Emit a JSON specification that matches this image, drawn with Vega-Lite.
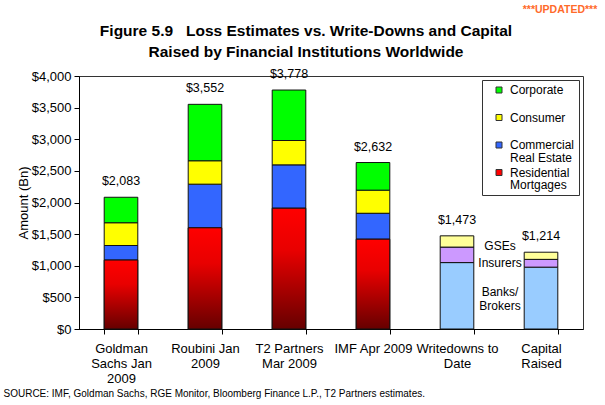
{
  "$schema": "https://vega.github.io/schema/vega-lite/v6.json",
  "width": 504,
  "height": 253,
  "autosize": {"type": "none"},
  "padding": {"left": 79, "top": 76, "right": 22, "bottom": 76},
  "background": "white",
  "config": {
    "font": "Liberation Sans",
    "view": {"stroke": "#333", "strokeWidth": 1},
    "style": {"guide-label": {"lineHeight": 12.5}},
    "axis": {
      "labelFont": "Liberation Sans",
      "titleFont": "Liberation Sans",
      "labelColor": "black",
      "titleColor": "black",
      "domainColor": "black",
      "tickColor": "black",
      "grid": false,
      "titleFontWeight": "normal"
    }
  },
  "title": {
    "text": ["Figure 5.9\u00a0\u00a0\u00a0Loss Estimates vs. Write-Downs and Capital", "Raised by Financial Institutions Worldwide"],
    "font": "Liberation Sans",
    "fontSize": 15.5,
    "fontWeight": "bold",
    "color": "black",
    "anchor": "middle",
    "dx": -25,
    "offset": -55,
    "lineHeight": 21
  },
  "datasets": {
    "segments": [
      {"cat": "Goldman Sachs Jan 2009", "seg": "Residential Mortgages", "value": 1090},
      {"cat": "Goldman Sachs Jan 2009", "seg": "Commercial Real Estate", "value": 230},
      {"cat": "Goldman Sachs Jan 2009", "seg": "Consumer", "value": 360},
      {"cat": "Goldman Sachs Jan 2009", "seg": "Corporate", "value": 403},
      {"cat": "Roubini Jan 2009", "seg": "Residential Mortgages", "value": 1600},
      {"cat": "Roubini Jan 2009", "seg": "Commercial Real Estate", "value": 690},
      {"cat": "Roubini Jan 2009", "seg": "Consumer", "value": 370},
      {"cat": "Roubini Jan 2009", "seg": "Corporate", "value": 892},
      {"cat": "T2 Partners Mar 2009", "seg": "Residential Mortgages", "value": 1910},
      {"cat": "T2 Partners Mar 2009", "seg": "Commercial Real Estate", "value": 685},
      {"cat": "T2 Partners Mar 2009", "seg": "Consumer", "value": 385},
      {"cat": "T2 Partners Mar 2009", "seg": "Corporate", "value": 798},
      {"cat": "IMF Apr 2009", "seg": "Residential Mortgages", "value": 1420},
      {"cat": "IMF Apr 2009", "seg": "Commercial Real Estate", "value": 410},
      {"cat": "IMF Apr 2009", "seg": "Consumer", "value": 365},
      {"cat": "IMF Apr 2009", "seg": "Corporate", "value": 437},
      {"cat": "Writedowns to Date", "seg": "Banks/Brokers", "value": 1050},
      {"cat": "Writedowns to Date", "seg": "Insurers", "value": 245},
      {"cat": "Writedowns to Date", "seg": "GSEs", "value": 178},
      {"cat": "Capital Raised", "seg": "Banks/Brokers", "value": 978},
      {"cat": "Capital Raised", "seg": "Insurers", "value": 123},
      {"cat": "Capital Raised", "seg": "GSEs", "value": 113}
    ],
    "notes": [
      {"cat": "Writedowns to Date", "value": 1310, "label": "GSEs"},
      {"cat": "Writedowns to Date", "value": 1043, "label": "Insurers"},
      {"cat": "Writedowns to Date", "value": 585, "label": "Banks/\nBrokers"}
    ],
    "flag": [
      {"cat": "Capital Raised", "value": 4000, "label": "***UPDATED***"}
    ]
  },
  "encoding": {
    "x": {
      "field": "cat",
      "type": "nominal",
      "sort": ["Goldman Sachs Jan 2009", "Roubini Jan 2009", "T2 Partners Mar 2009", "IMF Apr 2009", "Writedowns to Date", "Capital Raised"],
      "scale": {"paddingInner": 0.6, "paddingOuter": 0.3},
      "axis": {
        "title": "SOURCE: IMF, Goldman Sachs, RGE Monitor, Bloomberg Finance L.P., T2 Partners estimates.",
        "titleFontSize": 10,
        "titleAnchor": "start",
        "titleAlign": "left",
        "titleBaseline": "middle",
        "titleX": -76,
        "titleY": 64,
        "labelAngle": 0,
        "labelFontSize": 13,
        "labelLineHeight": 15,
        "labelPadding": 8,
        "labelOverlap": false,
        "tickBand": "extent",
        "tickSize": 5,
        "labelExpr": "datum.value == 'Goldman Sachs Jan 2009' ? ['Goldman', 'Sachs Jan', '2009'] : datum.value == 'Roubini Jan 2009' ? ['Roubini Jan', '2009'] : datum.value == 'T2 Partners Mar 2009' ? ['T2 Partners', 'Mar 2009'] : datum.value == 'Writedowns to Date' ? ['Writedowns to', 'Date'] : datum.value == 'Capital Raised' ? ['Capital', 'Raised'] : datum.value"
      }
    },
    "y": {
      "field": "value",
      "type": "quantitative",
      "title": "Amount (Bn)",
      "scale": {"domain": [0, 4000], "nice": false},
      "axis": {
        "values": [0, 500, 1000, 1500, 2000, 2500, 3000, 3500, 4000],
        "format": "$,.0f",
        "labelFontSize": 13,
        "titleFontSize": 13,
        "tickSize": 5,
        "labelPadding": 3,
        "titlePadding": 1
      }
    }
  },
  "layer": [
    {
      "data": {"name": "segments"},
      "transform": [
        {"calculate": "indexof(['Residential Mortgages', 'Commercial Real Estate', 'Consumer', 'Corporate', 'Banks/Brokers', 'Insurers', 'GSEs'], datum.seg)", "as": "rank"}
      ],
      "mark": {"type": "bar", "stroke": "#111", "strokeWidth": 1},
      "encoding": {
        "color": {
          "field": "seg",
          "type": "nominal",
          "scale": {
            "domain": ["Corporate", "Consumer", "Commercial Real Estate", "Residential Mortgages", "Banks/Brokers", "Insurers", "GSEs"],
            "range": ["#00ff00", "#ffff00", "#3366ff", "#ff0000", "#99ccff", "#cc99ff", "#ffff99"]
          },
          "legend": {
            "values": ["Corporate", "Consumer", "Commercial Real Estate", "Residential Mortgages"],
            "title": null,
            "orient": "top-right",
            "offset": 4,
            "fillColor": "white",
            "strokeColor": "#333",
            "padding": 4,
            "rowPadding": 2.5,
            "symbolOffset": 7,
            "symbolType": "square",
            "symbolSize": 36,
            "symbolStrokeColor": "#333",
            "symbolStrokeWidth": 1,
            "labelFont": "Liberation Sans",
            "labelFontSize": 12,
            "labelColor": "black",
            "labelOffset": 5,
            "labelLimit": 200,
            "labelExpr": "datum.label == 'Commercial Real Estate' ? ['Commercial\u00a0', 'Real Estate'] : datum.label == 'Residential Mortgages' ? ['Residential', 'Mortgages'] : [datum.label, '']"
          }
        },
        "order": {"field": "rank", "type": "quantitative"}
      }
    },
    {
      "data": {"name": "segments"},
      "transform": [{"filter": "datum.seg == 'Residential Mortgages'"}],
      "mark": {
        "type": "bar",
        "stroke": "#111",
        "strokeWidth": 1,
        "color": {
          "gradient": "linear",
          "x1": 0, "y1": 0, "x2": 0, "y2": 1,
          "stops": [
            {"offset": 0, "color": "#ff0000"},
            {"offset": 0.35, "color": "#e80000"},
            {"offset": 1, "color": "#660000"}
          ]
        }
      }
    },
    {
      "data": {"name": "segments"},
      "transform": [{"aggregate": [{"op": "sum", "field": "value", "as": "value"}], "groupby": ["cat"]}],
      "mark": {"type": "text", "dy": -16, "fontSize": 12.5, "color": "black"},
      "encoding": {"text": {"field": "value", "type": "quantitative", "format": "$,.0f"}}
    },
    {
      "data": {"name": "notes"},
      "mark": {"type": "text", "dx": 43, "fontSize": 12, "color": "black", "lineBreak": "\n", "lineHeight": 14},
      "encoding": {"text": {"field": "label", "type": "nominal"}}
    },
    {
      "data": {"name": "flag"},
      "mark": {"type": "text", "dx": 19, "dy": -66, "fontSize": 10.5, "fontWeight": "bold", "color": "#ff6a2a"},
      "encoding": {"text": {"field": "label", "type": "nominal"}}
    }
  ]
}
